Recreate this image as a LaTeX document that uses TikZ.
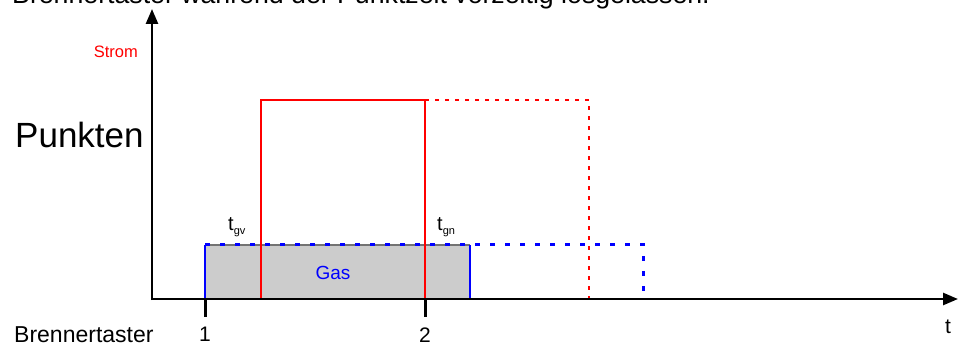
\documentclass[tikz,border=0pt]{standalone}
\usepackage{fontspec}
\setmainfont{Liberation Sans}
\usetikzlibrary{arrows.meta}
\begin{document}
\begin{tikzpicture}[x=1pt,y=-1pt,
  axis/.style={line width=2.5pt,black},
  axarrow/.style={-{Triangle[length=15pt,width=12pt]}},
  tickmark/.style={line width=3pt,black},
  strom/.style={red,line width=2pt},
  stromdot/.style={red,line width=2pt,dash pattern=on 4pt off 6pt},
  gasline/.style={blue,line width=2.5pt},
  gasdash/.style={blue,line width=3pt,dash pattern=on 5pt off 10pt},
  lbl/.style={inner sep=0pt,anchor=base}]
\useasboundingbox (0,0) rectangle (958,345);
% clipped title
\node[lbl,anchor=base west,font=\fontsize{26.7}{30}\selectfont] (title) at (12,4) {Brennertaster während der Punktzeit vorzeitig losgelassen.};
% gas area
\fill[black!20] (205,245) rectangle (470,299);
\draw[black!55,line width=2pt] (205,245) -- (470,245);
\draw[gasline] (205,299) -- (205,245);
\draw[gasline] (470,245) -- (470,299);
\draw[gasdash] (205,244) -- (643,244) -- (643,299);
% current
\draw[strom] (261,299) -- (261,100) -- (425,100) -- (425,299);
\draw[stromdot] (425,100) -- (589,100) -- (589,299);
% axes
\draw[axis,axarrow] (152,300) -- (152,9);
\draw[axis,axarrow] (151,299) -- (958,299);
\draw[tickmark] (205,299) -- (205,317);
\draw[tickmark] (425,299) -- (425,317);
% labels
\node[lbl,red,font=\fontsize{16.5}{18}\selectfont,anchor=base east] (strom) at (138,57) {Strom};
\node[lbl,anchor=base west,font=\fontsize{35}{38}\selectfont] (punkten) at (15,147) {Punkten};
\node[lbl,anchor=base west,font=\fontsize{23}{26}\selectfont] (brenner) at (14,342) {Brennertaster};
\node[lbl,font=\fontsize{21}{24}\selectfont] (one) at (205,341) {1};
\node[lbl,font=\fontsize{21}{24}\selectfont] (two) at (425,342) {2};
\node[lbl,font=\fontsize{21}{24}\selectfont] (t) at (948,333) {t};
\node[lbl,blue,font=\fontsize{19}{22}\selectfont] (gas) at (333,279) {Gas};
\node[lbl,anchor=base west,font=\fontsize{20}{22}\selectfont] (tgv) at (228,230) {t\raisebox{-4pt}{\fontsize{11}{12}\selectfont gv}};
\node[lbl,anchor=base west,font=\fontsize{20}{22}\selectfont] (tgn) at (437,230) {t\raisebox{-4pt}{\fontsize{11}{12}\selectfont gn}};
\end{tikzpicture}
\end{document}
